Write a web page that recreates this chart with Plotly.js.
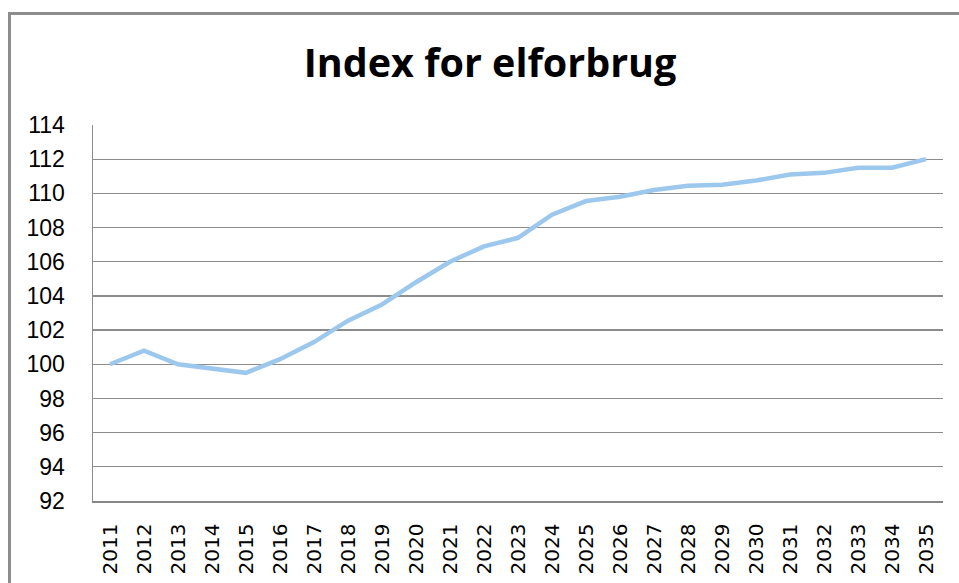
<!DOCTYPE html>
<html>
<head>
<meta charset="utf-8">
<script src="https://cdn.plot.ly/plotly-3.0.1.min.js"></script>
<style>
html,body{margin:0;padding:0;background:#fff;overflow:hidden;}
#chart{position:absolute;left:0;top:0;width:959px;height:583px;}
#frame{position:absolute;left:8px;top:12px;width:1000px;height:620px;border:3px solid #8c8c8c;pointer-events:none;box-sizing:border-box;}
</style>
</head>
<body>
<div id="chart"></div>
<div id="frame"></div>
<script>
const years = ["2011","2012","2013","2014","2015","2016","2017","2018","2019","2020","2021","2022","2023","2024","2025","2026","2027","2028","2029","2030","2031","2032","2033","2034","2035"];
const indexValues = [100.0,100.8,100.0,99.75,99.5,100.3,101.3,102.55,103.5,104.8,106.0,106.9,107.4,108.75,109.55,109.8,110.2,110.45,110.5,110.75,111.1,111.2,111.5,111.5,112.0];
const yTicks = [92,94,96,98,100,102,104,106,108,110,112,114];

Plotly.newPlot('chart', [{
  x: years, y: indexValues, type: 'scatter', mode: 'lines',
  line: {color: '#9DC8EE', width: 4.5}, hoverinfo: 'x+y'
}], {
  width: 959, height: 583,
  margin: {l: 93, r: 16, t: 125, b: 82},
  paper_bgcolor: '#fff', plot_bgcolor: '#fff',
  showlegend: false,
  title: {text: '<b>Index for elforbrug</b>', x: 0.511, xref: 'container', xanchor: 'center', y: 0.891, yref: 'container', yanchor: 'middle',
    font: {family: 'Open Sans, Liberation Sans, sans-serif', size: 39.5, color: '#000'}},
  xaxis: {type: 'category', range: [-0.5, 24.5], tickangle: -90, showgrid: false, showline: true, linecolor: '#868686', linewidth: 1.5,
    ticks: '', tickfont: {family: 'DejaVu Sans, sans-serif', size: 20, color: '#000'}, ticklabelstandoff: 13},
  yaxis: {range: [92, 114], tickvals: yTicks, ticktext: yTicks.map(String), showgrid: true, gridcolor: '#8c8c8c', gridwidth: 1.2,
    showline: true, linecolor: '#8c8c8c', linewidth: 1.5, zeroline: false, ticks: '',
    tickfont: {family: 'Liberation Sans, sans-serif', size: 23, color: '#000'}, ticklabelstandoff: 22}
}, {displayModeBar: false, staticPlot: true});
</script>
</body>
</html>
